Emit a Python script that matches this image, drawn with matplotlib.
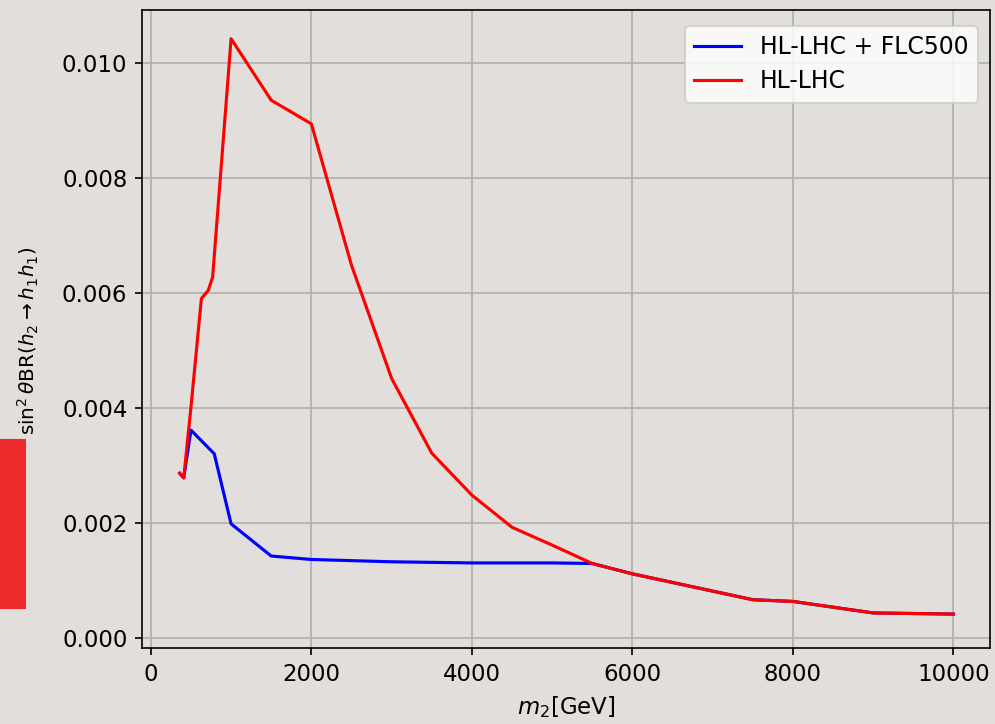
import matplotlib
matplotlib.use("Agg")
import matplotlib.pyplot as plt
from matplotlib.patches import Rectangle

# data
m2_flc = [360, 410, 500, 790, 1000, 1500, 2000, 2500, 3000, 3500, 4000, 4500, 5000,
          5500, 6000, 6500, 7000, 7500, 8000, 8500, 9000, 9500, 10000]
br_flc = [0.00287, 0.00279, 0.00362, 0.00321, 0.00199, 0.00143, 0.00137, 0.00135,
          0.00133, 0.00132, 0.00131, 0.00131, 0.00131, 0.00130, 0.00112, 0.00097,
          0.00082, 0.00067, 0.00064, 0.00054, 0.00044, 0.00043, 0.00042]

m2_lhc = [360, 410, 500, 630, 715, 770, 1000, 1500, 2000, 2500, 3000, 3500, 4000, 4500,
          5000, 5500, 6000, 6500, 7000, 7500, 8000, 8500, 9000, 9500, 10000]
br_lhc = [0.00287, 0.00279, 0.00402, 0.00591, 0.00605, 0.00628, 0.01043, 0.00936,
          0.00895, 0.00649, 0.00452, 0.00322, 0.00249, 0.00193, 0.00162, 0.00130,
          0.00112, 0.00097, 0.00082, 0.00067, 0.00064, 0.00054, 0.00044, 0.00043, 0.00042]

label_flc = "HL-LHC + FLC500"
label_lhc = "HL-LHC"
xticks = [0, 2000, 4000, 6000, 8000, 10000]
yticks = [0.000, 0.002, 0.004, 0.006, 0.008, 0.010]

plt.rcParams["font.size"] = 11

bg = "#e1dedb"
fig = plt.figure(figsize=(995 / 150, 724 / 150), dpi=150, facecolor=bg)
ax = fig.add_axes([142 / 995, 1 - 648 / 724, (990 - 142) / 995, (648 - 10) / 724])
ax.set_facecolor(bg)

ax.plot(m2_flc, br_flc, color="blue", lw=1.5, label=label_flc)
ax.plot(m2_lhc, br_lhc, color="red", lw=1.5, label=label_lhc)

ax.set_xlim(-110, 10455)
ax.set_ylim(-0.00017, 0.01093)
ax.set_xticks(xticks)
ax.set_yticks(yticks)
ax.set_yticklabels([f"{v:.3f}" for v in yticks])
ax.grid(True, color="#b0b0b0", lw=0.8)
ax.set_axisbelow(True)

ax.set_xlabel(r"$m_2$[GeV]")
ax.set_ylabel(r"$\sin^2\theta\mathrm{BR}(h_2\to h_1h_1)$", fontsize=9.6)
ax.yaxis.set_label_coords(-0.119, 0.481)
ax.legend(loc="upper right", fontsize=11.3, bbox_to_anchor=(0.986, 0.975),
          borderaxespad=0.0, labelspacing=0.42)

fig.patches.append(Rectangle((0, 1 - 608 / 724), 25 / 995, 168 / 724,
                             transform=fig.transFigure, color="#ee2a2c", zorder=5))

fig.savefig("out.png", dpi=150, facecolor=bg)
